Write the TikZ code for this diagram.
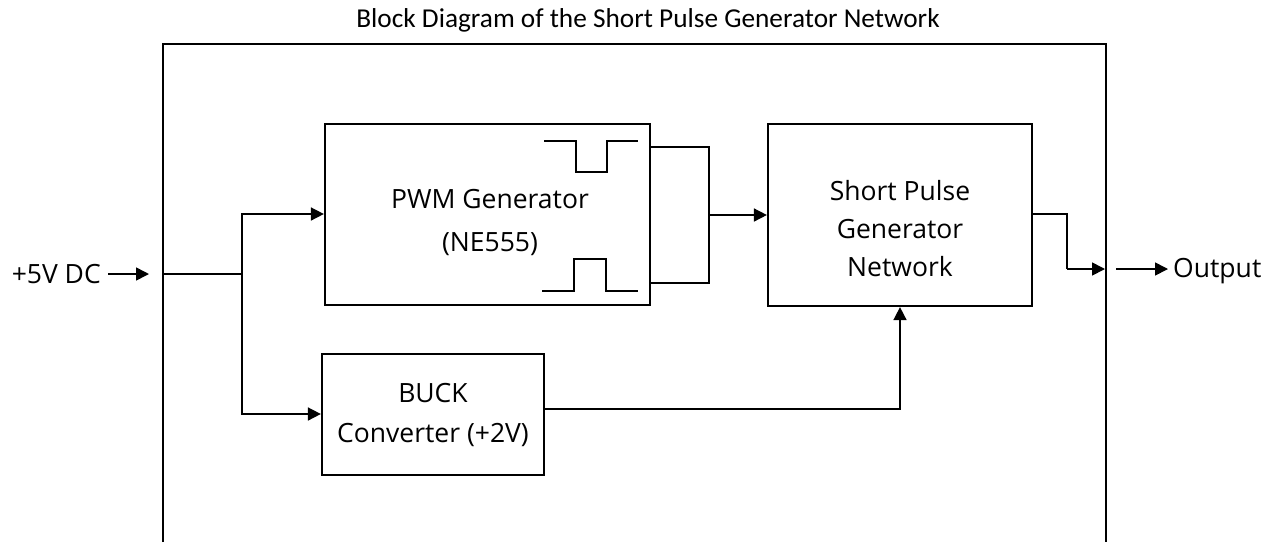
\documentclass[tikz,border=0pt]{standalone}
\usepackage{fontspec}
\setmainfont{Open Sans}
\newfontfamily\titlefont{Carlito}
\usetikzlibrary{arrows.meta}
\tikzset{
  blk/.style={draw, line width=2.2pt, inner sep=0pt},
  conn/.style={line width=1.6pt},
  arr/.style={conn, -{Triangle[length=13pt,width=13pt]}},
  lbl/.style={font=\fontsize{26.5}{39}\selectfont, align=center, inner sep=0pt},
  wave/.style={line width=1.6pt},
}
\begin{document}
\begin{tikzpicture}[x=1pt,y=-1pt]
\useasboundingbox (0,0) rectangle (1271,542);
% title
\node[font=\titlefont\fontsize{27.3}{32}\selectfont, inner sep=0pt] (title) at (648,20) {Block Diagram of the Short Pulse Generator Network};
% outer frame
\coordinate (fbl) at (163,542);
\coordinate (ftl) at (163,44);
\coordinate (ftr) at (1106,44);
\coordinate (fbr) at (1106,542);
\draw[line width=2.2pt] (fbl) -- (ftl) -- (ftr) -- (fbr);
% blocks
\node[blk, minimum width=325pt, minimum height=181pt] (pwm) at (487.5,214.5) {};
\node[lbl, font=\fontsize{26.5}{43}\selectfont] (pwmt) at (490,222) {PWM Generator\\(NE555)};
\node[blk, minimum width=264pt, minimum height=182pt] (sp) at (900,215) {};
\node[lbl, font=\fontsize{26.5}{38}\selectfont] (spt) at (900,229) {Short Pulse\\Generator\\Network};
\node[lbl, font=\fontsize{26.5}{40}\selectfont] (buckt) at (433,415) {BUCK\\Converter (+2V)};
\node[blk, minimum width=222pt, minimum height=121pt] (buck) at (433,414.5) {};
% waveforms
\draw[wave] (544,141) -- (576,141) -- (576,172) -- (607,172) -- (607,141) -- (638,141);
\draw[wave] (542,291) -- (574,291) -- (574,259) -- (606,259) -- (606,291) -- (638,291);
% input
\node[lbl, anchor=east] (in) at (101,274) {+5V DC};
\coordinate (ina) at (108,274);
\coordinate (inb) at (149,274);
\draw[arr] (ina) -- (inb);
\coordinate (sp1) at (163,274);
\coordinate (jn) at (242,274);
\draw[conn] (sp1) -- (jn);
\draw[arr] (jn) |- (pwm.west |- 0,214);
\draw[arr] (jn) |- (buck.west |- 0,414);
% pwm outputs
\coordinate (mj) at (709,215);
\draw[conn] (pwm.east |- 0,147) -| (mj);
\draw[conn] (pwm.east |- 0,283) -| (mj);
\draw[arr] (mj) -- (sp.west |- mj);
% buck to sp
\draw[arr] (buck.east |- 0,409) -| (sp.south);
% sp output
\coordinate (oa) at (1067,269);
\coordinate (ob) at (1105,269);
\draw[conn] (sp.east |- 0,214) -| (oa);
\draw[arr] (oa) -- (ob);
\coordinate (oc) at (1116,269);
\coordinate (od) at (1168,269);
\draw[arr] (oc) -- (od);
\node[lbl, anchor=west] (out) at (1173,271) {Output};
\end{tikzpicture}
\end{document}
